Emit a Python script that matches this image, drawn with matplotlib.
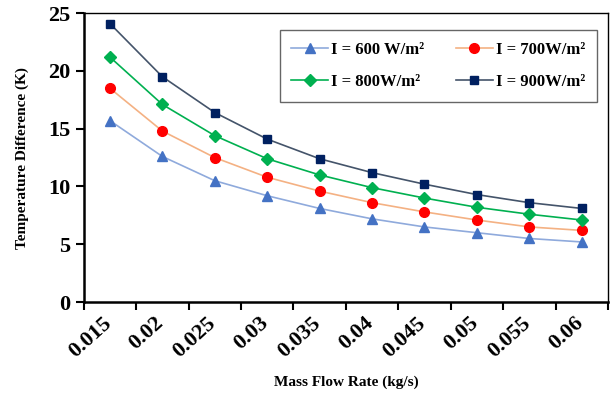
import matplotlib.pyplot as plt
import matplotlib.transforms as mtransforms
import numpy as np

plt.rcParams['font.family'] = ['Liberation Serif', 'DejaVu Serif']
plt.rcParams['font.weight'] = 'bold'

flow = ['0.015', '0.02', '0.025', '0.03', '0.035', '0.04', '0.045', '0.05', '0.055', '0.06']
dt600 = [15.7, 12.6, 10.5, 9.2, 8.1, 7.2, 6.5, 6.0, 5.5, 5.2]
dt700 = [18.5, 14.8, 12.5, 10.8, 9.6, 8.6, 7.8, 7.1, 6.5, 6.2]
dt800 = [21.2, 17.1, 14.4, 12.4, 11.0, 9.9, 9.0, 8.2, 7.6, 7.1]
dt900 = [24.1, 19.5, 16.4, 14.1, 12.4, 11.2, 10.2, 9.3, 8.6, 8.1]

fig = plt.figure(figsize=(6.11, 3.99), dpi=100)
ax = fig.add_axes([0.137, 0.243, 0.858, 0.724])

x = np.arange(len(flow)) + 0.5
l1, = ax.plot(x, dt600, color='#8FAADC', lw=1.2, marker='^', ms=7, mfc='#4472C4', mec='#4472C4', label='I = 600 W/m²')
l2, = ax.plot(x, dt700, color='#F4B183', lw=1.2, marker='o', ms=7, mfc='#FF0000', mec='#FF0000', label='I = 700W/m²')
l3, = ax.plot(x, dt800, color='#00B050', lw=1.2, marker='D', ms=6, mfc='#00B050', mec='#00B050', label='I = 800W/m²')
l4, = ax.plot(x, dt900, color='#44546A', lw=1.2, marker='s', ms=5.5, mfc='#002060', mec='#002060', label='I = 900W/m²')

ax.set_xlim(0, len(flow))
ax.set_ylim(0, 25)
ax.set_xticks(np.arange(len(flow) + 1), minor=False)
ax.set_xticklabels([])
ax.set_xticks(x, minor=True)
ax.set_xticklabels(flow, minor=True, rotation=42, ha='right', rotation_mode='anchor', fontsize=16, fontweight='bold')
ax.tick_params(axis='x', which='minor', length=0, pad=8)
ax.tick_params(axis='x', which='major', length=6, width=1.5, direction='out')
shift = mtransforms.ScaledTranslation(-8 / 100, 0, fig.dpi_scale_trans)
for lab in ax.get_xticklabels(minor=True):
    lab.set_transform(lab.get_transform() + shift)
ax.set_yticks([0, 5, 10, 15, 20, 25])
ax.tick_params(axis='y', length=6, width=1.5, labelsize=16)
for lab in ax.get_yticklabels():
    lab.set_fontweight('bold')

for s in ['left', 'bottom']:
    ax.spines[s].set_linewidth(1.8)
for s in ['top', 'right']:
    ax.spines[s].set_linewidth(1.0)

ax.set_xlabel('Mass Flow Rate (kg/s)', fontsize=11, fontweight='bold', labelpad=10)
ax.set_ylabel('Temperature Difference (K)', fontsize=11, fontweight='bold', labelpad=14)

leg = ax.legend([l1, l3, l2, l4], [l1.get_label(), l3.get_label(), l2.get_label(), l4.get_label()],
                ncol=2, loc='upper right', bbox_to_anchor=(0.979, 0.94), borderaxespad=0, fontsize=12,
                frameon=True, fancybox=False, edgecolor='#404040', handlelength=2.2,
                columnspacing=1.9, borderpad=0.7, labelspacing=0.95, handletextpad=0.2)
leg.get_frame().set_linewidth(1.0)
for t in leg.get_texts():
    t.set_fontweight('bold')

plt.savefig('out.png', dpi=100)
